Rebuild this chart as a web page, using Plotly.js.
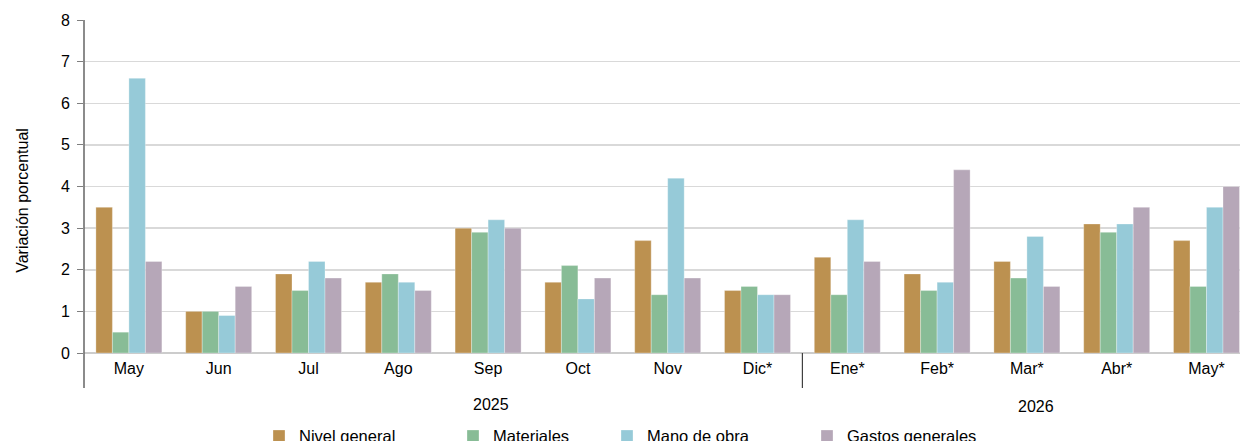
<!DOCTYPE html>
<html><head><meta charset="utf-8">
<script src="https://cdn.plot.ly/plotly-3.0.1.min.js"></script>
<style>html,body{margin:0;padding:0;background:#fff}#c{width:1240px;height:441px}</style>
</head><body><div id="c"></div>
<script>
const categories = ["May","Jun","Jul","Ago","Sep","Oct","Nov","Dic*","Ene*","Feb*","Mar*","Abr*","May*"];
const nivelGeneral    = [3.5,1.0,1.9,1.7,3.0,1.7,2.7,1.5,2.3,1.9,2.2,3.1,2.7];
const materiales      = [0.5,1.0,1.5,1.9,2.9,2.1,1.4,1.6,1.4,1.5,1.8,2.9,1.6];
const manoDeObra      = [6.6,0.9,2.2,1.7,3.2,1.3,4.2,1.4,3.2,1.7,2.8,3.1,3.5];
const gastosGenerales = [2.2,1.6,1.8,1.5,3.0,1.8,1.8,1.4,2.2,4.4,1.6,3.5,4.0];
const seriesNames = ["Nivel general","Materiales","Mano de obra","Gastos generales"];
const yearLabels = ["2025","2026"];
const yTicks = [0,1,2,3,4,5,6,7,8];

const colors = ["#BC9150","#88BC96","#96CAD8","#B6A7B8"];
const vals = [nivelGeneral, materiales, manoDeObra, gastosGenerales];
const legendIds = ["legend","legend2","legend3","legend4"];
const xIdx = categories.map((c,i)=>i);

const traces = vals.map((v,i)=>({
  type:"bar", x:xIdx, y:v, name:seriesNames[i], legend:legendIds[i],
  marker:{color:colors[i], line:{color:"rgba(255,255,255,0.6)", width:0.5}},
  hoverinfo:"skip"
}));

const font = {family:"Liberation Sans, Arial, sans-serif", size:16, color:"#000"};
const legX = [279, 473, 627, 827];
const legendCfg = (px)=>({x:(px-84-20)/1156, xanchor:"left", y:-0.25, yanchor:"middle",
  orientation:"h", font:{family:font.family,size:16.5,color:"#000"}, bgcolor:"rgba(0,0,0,0)", itemwidth:30});

const layout = {
  width:1240, height:441,
  margin:{l:84, r:0, t:20, b:88, autoexpand:false},
  paper_bgcolor:"#fff", plot_bgcolor:"#fff",
  font:font,
  barmode:"group", bargap:0.265, bargroupgap:0,
  showlegend:true,
  legend:legendCfg(legX[0]), legend2:legendCfg(legX[1]), legend3:legendCfg(legX[2]), legend4:legendCfg(legX[3]),
  xaxis:{range:[-0.5, -0.5 + 1156/89.8], tickmode:"array", tickvals:xIdx, ticktext:categories,
    showgrid:false, zeroline:false, showline:false, ticks:"", tickfont:{size:16}, ticklabelstandoff:4, fixedrange:true},
  yaxis:{range:[0,8], tickmode:"array", tickvals:yTicks, ticktext:yTicks.map(String),
    showgrid:true, gridcolor:"#d9d9d9", gridwidth:1.5, zeroline:true, zerolinecolor:"#cccccc", zerolinewidth:1.5,
    showline:false, ticks:"outside", ticklen:6, tickcolor:"#7f7f7f", tickwidth:1, tickfont:{size:16}, ticklabelstandoff:4, fixedrange:true},
  shapes:[
    {type:"line", xref:"paper", yref:"paper", x0:0, x1:0, y0:1, y1:-0.105, line:{color:"#6e6e6e", width:1.6}},
    {type:"line", xref:"x", yref:"paper", x0:7.5, x1:7.5, y0:0, y1:-0.105, line:{color:"#404040", width:1.2}}
  ],
  annotations:[
    {text:yearLabels[0], xref:"x", yref:"paper", x:4.03, y:-0.156, xanchor:"center", yanchor:"middle", showarrow:false, font:{size:16}},
    {text:yearLabels[1], xref:"x", yref:"paper", x:10.1, y:-0.162, xanchor:"center", yanchor:"middle", showarrow:false, font:{size:16}},
    {text:"Variación porcentual", xref:"paper", yref:"paper", x:(23-84)/1156, y:0.457, xanchor:"center", yanchor:"middle", textangle:-90, showarrow:false, font:{size:16}}
  ]
};
Plotly.newPlot("c", traces, layout, {displayModeBar:false, staticPlot:true});
</script></body></html>
